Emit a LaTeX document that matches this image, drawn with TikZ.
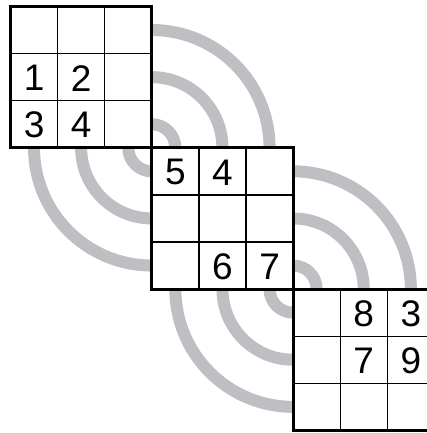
\documentclass[tikz,border=0pt]{standalone}
\usepackage{fontspec}
\setmainfont{Liberation Sans}
\definecolor{arcgray}{RGB}{190,191,195}
\begin{document}
\begin{tikzpicture}[x=1pt,y=-1pt,
  arcline/.style={draw=arcgray,line width=12pt},
  innerline/.style={line width=1.3pt},
  outerline/.style={line width=3.2pt},
  digit/.style={font=\fontsize{37}{37}\selectfont,inner sep=0pt}]
\useasboundingbox (0,0) rectangle (426,433);
\def\s{47.1}
% concentric rings behind the grids
\foreach \cx/\cy/\n in {151.8/147.8/a, 293.1/289.1/b}{
  \coordinate (c\n) at (\cx,\cy);
  \foreach \r in {0.5,1.5,2.5}{
    \draw[arcline] (c\n) circle[radius=\r*\s];
  }
}
% grids
\foreach \gx/\gy/\n in {10.5/6.5/1, 151.8/147.8/2, 293.1/289.1/3}{
  \fill[white] (\gx,\gy) rectangle ++(3*\s,3*\s);
  \foreach \k in {1,2}{
    \draw[innerline] (\gx+\k*\s,\gy) -- ++(0,3*\s);
    \draw[innerline] (\gx,\gy+\k*\s) -- ++(3*\s,0);
  }
  \draw[outerline] (\gx,\gy) rectangle ++(3*\s,3*\s);
}
% digits: grid origin + (col-0.5, row-0.5) cells
\foreach \gx/\gy/\c/\r/\d/\n in {
  10.5/6.5/1/2/1/a1, 10.5/6.5/2/2/2/a2, 10.5/6.5/1/3/3/a3, 10.5/6.5/2/3/4/a4,
  151.8/147.8/1/1/5/b1, 151.8/147.8/2/1/4/b2, 151.8/147.8/2/3/6/b3, 151.8/147.8/3/3/7/b4,
  293.1/289.1/2/1/8/c1, 293.1/289.1/3/1/3/c2, 293.1/289.1/2/2/7/c3, 293.1/289.1/3/2/9/c4}{
  \node[digit] (d\n) at (\gx+\c*\s-0.5*\s, \gy+\r*\s-0.5*\s+1) {\d};
}
\end{tikzpicture}
\end{document}
